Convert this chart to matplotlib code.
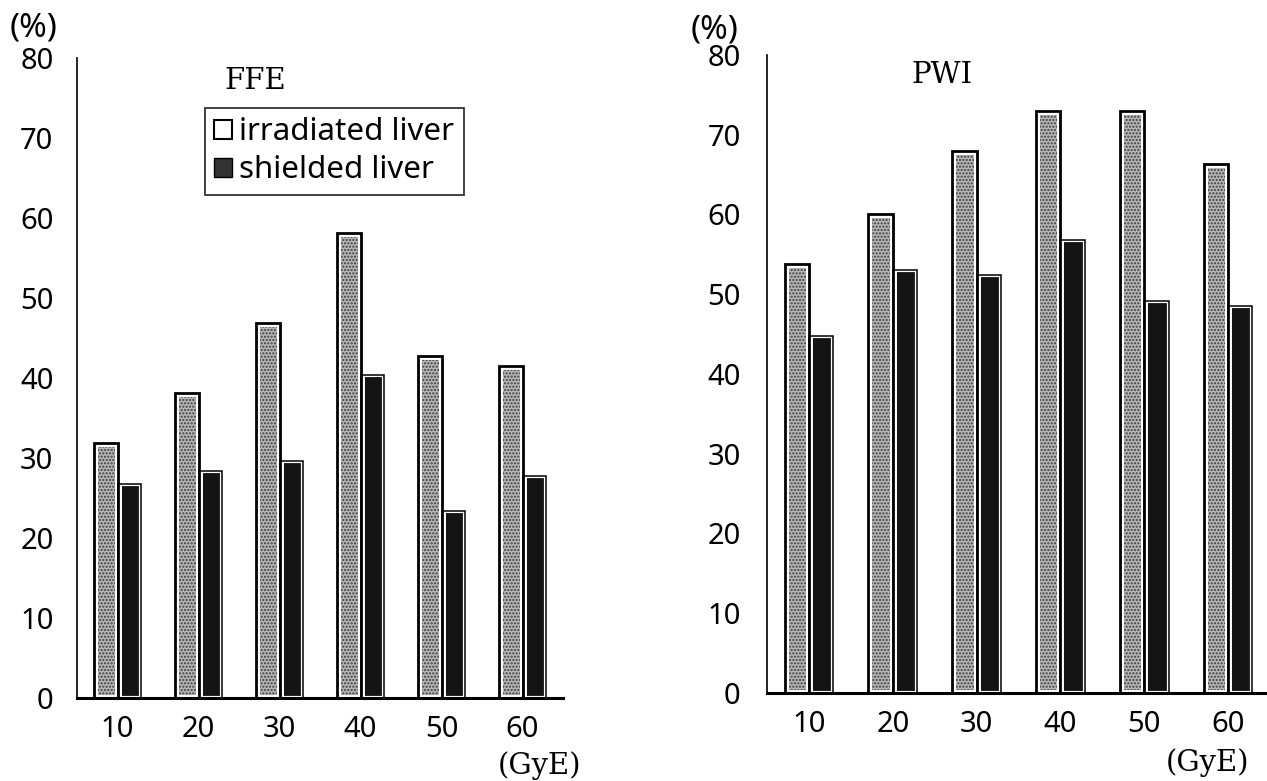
import numpy as np
import matplotlib.pyplot as plt
from matplotlib.patches import Patch

# Dose groups (GyE) and percentages per panel
doses = ['10', '20', '30', '40', '50', '60']
ffe_irradiated = [31.9, 38.1, 46.9, 58.1, 42.8, 41.5]
ffe_shielded = [26.7, 28.4, 29.6, 40.4, 23.4, 27.7]
pwi_irradiated = [53.8, 60.1, 67.9, 73.0, 73.0, 66.3]
pwi_shielded = [44.7, 53.1, 52.4, 56.8, 49.1, 48.5]

sans = 'Noto Sans'
serif = 'DejaVu Serif'

fig = plt.figure(figsize=(12.67, 7.81), dpi=100)
ax1 = fig.add_axes([0.0608, 0.1063, 0.3836, 0.8195])
ax2 = fig.add_axes([0.6054, 0.1127, 0.3970, 0.8169])

x = np.arange(1, len(doses) + 1)
w = 0.29


def draw_panel(ax, irr, shd, ypad):
    # irradiated liver: stippled grey with white rim and heavy black outline
    ax.bar(x - w / 2, irr, width=w, facecolor='#b4b4b4', edgecolor='#3c3c3c',
           linewidth=0, hatch='.....', clip_on=False, zorder=2)
    ax.bar(x - w / 2, irr, width=w, fill=False, edgecolor='white',
           linewidth=5, clip_on=False, zorder=3)
    ax.bar(x - w / 2, irr, width=w, fill=False, edgecolor='black',
           linewidth=2.0, clip_on=False, zorder=4)
    # shielded liver: black with thin white rim and outline
    ax.bar(x + w / 2, shd, width=w, facecolor='#141414', edgecolor='white',
           linewidth=3, clip_on=False, zorder=2)
    ax.bar(x + w / 2, shd, width=w, fill=False, edgecolor='black',
           linewidth=1.1, clip_on=False, zorder=3)

    ax.set_xlim(0.5, 6.5)
    ax.set_ylim(0, 80)
    ax.set_yticks(range(0, 81, 10))
    ax.set_xticks(x)
    ax.set_xticklabels(doses)
    ax.spines['top'].set_visible(False)
    ax.spines['right'].set_visible(False)
    ax.spines['left'].set_linewidth(1.2)
    ax.spines['bottom'].set_linewidth(2.2)
    ax.spines['bottom'].set_zorder(5)
    ax.tick_params(axis='both', length=0, labelsize=21)
    ax.tick_params(axis='y', pad=ypad)
    ax.tick_params(axis='x', pad=12)
    for lab in ax.get_xticklabels() + ax.get_yticklabels():
        lab.set_fontfamily(sans)


draw_panel(ax1, ffe_irradiated, ffe_shielded, 17)
draw_panel(ax2, pwi_irradiated, pwi_shielded, 19)

# panel titles and units
fig.text(0.2013, 0.8963, 'FFE', family=serif, fontsize=21, ha='center', va='center')
fig.text(0.7435, 0.9040, 'PWI', family=serif, fontsize=21, ha='center', va='center')
fig.text(0.0268, 0.9640, '(%)', family=sans, fontsize=24, ha='center', va='center')
fig.text(0.5643, 0.9616, '(%)', family=sans, fontsize=24, ha='center', va='center')
fig.text(0.4262, 0.0192, '(GyE)', family=serif, fontsize=21, ha='center', va='center')
fig.text(0.9534, 0.0230, '(GyE)', family=serif, fontsize=21, ha='center', va='center')

handles = [Patch(facecolor='white', edgecolor='black', linewidth=1.5),
           Patch(facecolor='#333333', edgecolor='black', linewidth=1.0)]
leg = ax1.legend(handles, ['irradiated liver', 'shielded liver'],
                 loc='upper left', bbox_to_anchor=(205 / 1267, 1 - 108 / 781),
                 bbox_transform=fig.transFigure, fancybox=False, frameon=True,
                 prop={'family': sans, 'size': 22.5}, handlelength=0.55,
                 handleheight=0.55, handletextpad=0.25, borderpad=0.3,
                 labelspacing=0.25, borderaxespad=0)
leg.get_frame().set_edgecolor('black')
leg.get_frame().set_linewidth(1.3)

fig.savefig('out.png', dpi=100)
